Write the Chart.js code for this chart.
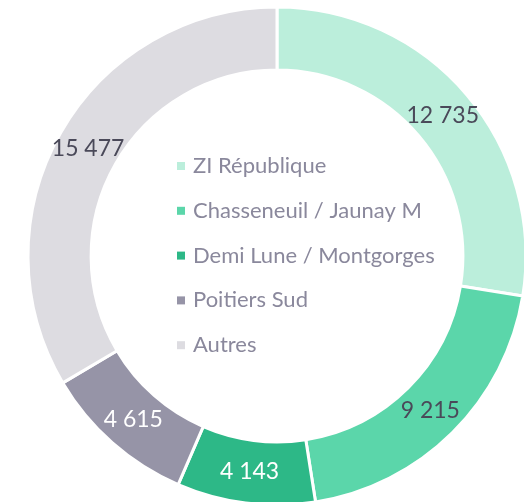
<!DOCTYPE html>
<html>
<head>
<meta charset="utf-8">
<script src="https://cdn.jsdelivr.net/npm/chart.js@4"></script>
<style>
  html,body{margin:0;padding:0;background:#fff;overflow:hidden;width:524px;height:502px;}
  #wrap{position:absolute;left:0;top:0;}
</style>
</head>
<body>
<div id="wrap"><canvas id="pie" width="554" height="512"></canvas></div>
<script>
// zones and jobs count
const labels = ['ZI République', 'Chasseneuil / Jaunay M', 'Demi Lune / Montgorges', 'Poitiers Sud', 'Autres'];
const values = [12735, 9215, 4143, 4615, 15477];
const colors = ['#BBEEDB', '#5BD6AA', '#2DB887', '#9694A7', '#DDDCE1'];
const labelColors = ['#4A4959', '#4A4959', '#ffffff', '#ffffff', '#4A4959'];

const FONT = 'Lato, Calibri, sans-serif';

function fmt(v){ return String(v).replace(/\B(?=(\d{3})+(?!\d))/g, ' '); }

// value labels on each arc + legend drawn in the hole
const annot = {
  id:'annot',
  afterDatasetsDraw(chart){
    const ctx = chart.ctx;
    const meta = chart.getDatasetMeta(0);
    ctx.save();
    ctx.font = '23px ' + FONT;
    ctx.textAlign = 'center'; ctx.textBaseline = 'middle';
    meta.data.forEach((arc,i)=>{
      const p = arc.getCenterPoint();
      ctx.fillStyle = labelColors[i];
      ctx.fillText(fmt(values[i]), p.x, p.y);
    });
    // legend
    const x0 = 177, y0 = 166, step = 44.8;
    ctx.textAlign = 'left';
    ctx.font = '22px ' + FONT;
    labels.forEach((l,i)=>{
      const y = y0 + i*step;
      ctx.fillStyle = colors[i];
      ctx.fillRect(x0, y-4, 8, 8);
      ctx.fillStyle = '#8A889C';
      ctx.fillText(l, x0+16, y);
    });
    ctx.restore();
  }
};

new Chart(document.getElementById('pie'), {
  type:'doughnut',
  data:{ labels, datasets:[{ data: values, backgroundColor: colors, borderColor:'#ffffff', borderWidth:3 }] },
  options:{
    responsive:false,
    animation:false,
    radius:249,
    cutout:190,
    plugins:{ legend:{ display:false }, tooltip:{ enabled:false } }
  },
  plugins:[annot]
});
</script>
</body>
</html>
